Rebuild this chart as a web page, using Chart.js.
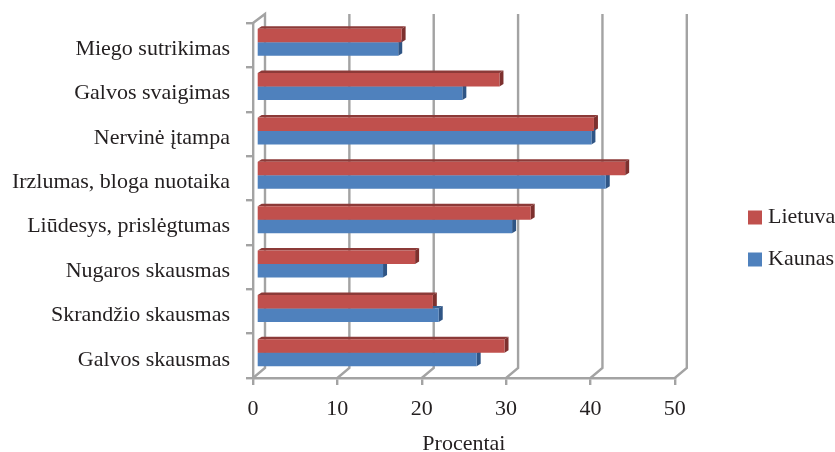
<!DOCTYPE html>
<html>
<head>
<meta charset="utf-8">
<script src="https://cdn.jsdelivr.net/npm/chart.js@4"></script>
<style>
html, body { margin: 0; padding: 0; background: #fff; }
#wrap { width: 835px; height: 452px; }
</style>
</head>
<body>
<div id="wrap"><canvas id="myChart" width="835" height="452"></canvas></div>
<script>
// chart data
const categories = ['Miego sutrikimas', 'Galvos svaigimas', 'Nervinė įtampa', 'Irzlumas, bloga nuotaika',
    'Liūdesys, prislėgtumas', 'Nugaros skausmas', 'Skrandžio skausmas', 'Galvos skausmas'];
const lietuva = [17.2, 28.8, 40, 43.7, 32.5, 18.8, 20.9, 29.4];
const kaunas = [16.8, 24.4, 39.7, 41.4, 30.3, 15, 21.6, 26.1];
const xTicks = [0, 10, 20, 30, 40, 50];

const textColor = '#231f20';
const gridColor = '#a3a3a3';
const depth = 12; // back wall offset
const serif = '"Liberation Serif", serif';

// back wall lines of the fake 3D box
const backWall = {
    id: 'backWall',
    beforeDatasetsDraw(chart) {
        const { ctx, chartArea: { top, bottom }, scales: { x } } = chart;
        ctx.save();
        ctx.strokeStyle = gridColor;
        ctx.lineWidth = 2.4;
        xTicks.forEach(v => {
            const px = x.getPixelForValue(v);
            ctx.beginPath();
            ctx.moveTo(px, bottom);
            ctx.lineTo(px + depth, bottom - 10);
            ctx.lineTo(px + depth, top - 9);
            if (v === 0) ctx.lineTo(px, top);
            ctx.stroke();
        });
        ctx.restore();
    }
};

// bar extrusion, drawn behind the front faces
const barDepth = {
    id: 'barDepth',
    beforeDatasetsDraw(chart) {
        const { ctx } = chart;
        const dx = 4, dy = 2.5;
        ctx.save();
        ctx.translate(3.5, -3);
        chart.data.datasets.forEach((ds, i) => {
            chart.getDatasetMeta(i).data.forEach(bar => {
                const t = bar.y - bar.height / 2, b = bar.y + bar.height / 2;
                // top
                ctx.fillStyle = ds.topColor;
                ctx.beginPath();
                ctx.moveTo(bar.base, t);
                ctx.lineTo(bar.base + dx, t - dy);
                ctx.lineTo(bar.x + dx, t - dy);
                ctx.lineTo(bar.x, t);
                ctx.closePath();
                ctx.fill();
                // right side
                ctx.fillStyle = ds.sideColor;
                ctx.beginPath();
                ctx.moveTo(bar.x, t);
                ctx.lineTo(bar.x + dx, t - dy);
                ctx.lineTo(bar.x + dx, b - dy);
                ctx.lineTo(bar.x, b);
                ctx.closePath();
                ctx.fill();
            });
        });
        ctx.restore();
        // front faces sit a bit inside the box
        ctx.save();
        ctx.translate(3.5, -3);
    },
    afterDatasetsDraw(chart) {
        chart.ctx.restore();
    }
};

// legend sits further right than chart.js would put it
const moveLegend = {
    id: 'moveLegend',
    afterLayout(chart) {
        const l = chart.legend;
        l.left = 733;
        l.right = 835;
        l.top += 1;
        l.bottom += 1;
    }
};

const data = {
    labels: categories,
    datasets: [
        { label: 'Lietuva', data: lietuva, backgroundColor: '#c0504d', topColor: '#8c3a38', sideColor: '#7d302e' },
        { label: 'Kaunas', data: kaunas, backgroundColor: '#4f81bd', topColor: '#3a6091', sideColor: '#2f5585' }
    ]
};

const config = {
    type: 'bar',
    data,
    options: {
        indexAxis: 'y',
        responsive: false,
        animation: false,
        layout: { padding: { top: 23, left: 0, right: 48, bottom: 0 } },
        datasets: { bar: { categoryPercentage: 0.61, barPercentage: 1, borderWidth: 0, clip: false } },
        scales: {
            x: {
                min: 0,
                max: 50,
                ticks: {
                    stepSize: 10,
                    color: textColor,
                    padding: 11,
                    maxRotation: 0,
                    font: { family: serif, size: 22 }
                },
                grid: { drawOnChartArea: false, color: gridColor, lineWidth: 2.4, tickLength: 7 },
                border: { color: gridColor, width: 2.4 },
                title: {
                    display: true,
                    text: 'Procentai',
                    color: textColor,
                    padding: { top: 6, bottom: -5 },
                    font: { family: serif, size: 22 }
                },
                afterFit(scale) { scale.height = 74; }
            },
            y: {
                ticks: {
                    color: textColor,
                    padding: 16,
                    labelOffset: 4,
                    autoSkip: false,
                    font: { family: serif, size: 22 }
                },
                grid: { drawOnChartArea: false, color: gridColor, lineWidth: 2.4, tickLength: 7 },
                border: { color: gridColor, width: 2.4 },
                afterFit(scale) {
                    scale.width = 253;
                    scale.paddingTop = 0;
                    scale.paddingBottom = 0;
                }
            }
        },
        plugins: {
            tooltip: { enabled: false },
            legend: {
                position: 'right',
                labels: {
                    usePointStyle: true,
                    pointStyle: 'rect',
                    boxWidth: 4,
                    boxHeight: 14,
                    padding: 20,
                    color: textColor,
                    font: { family: serif, size: 22 }
                }
            }
        }
    },
    plugins: [backWall, barDepth, moveLegend]
};

const myChart = new Chart(document.getElementById('myChart'), config);
</script>
</body>
</html>
